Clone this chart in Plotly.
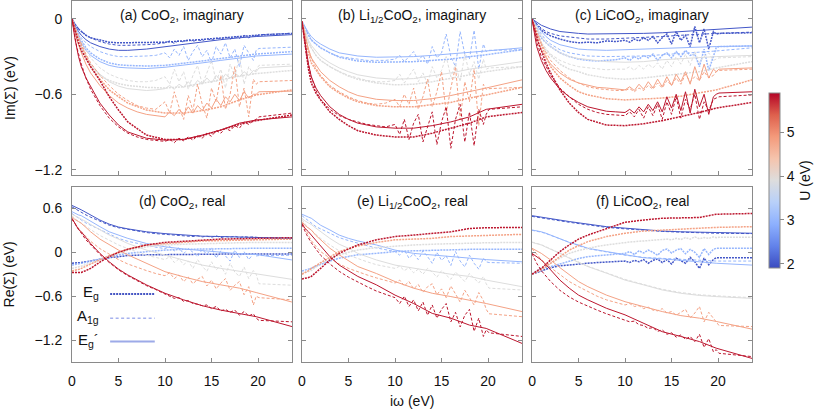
import plotly.graph_objects as go
from plotly.colors import sample_colorscale

# ---------------- grids (i omega, eV) ----------------
XS = [0, 0.3, 0.7, 1, 1.5, 2, 3, 4, 5, 6, 8, 10, 12, 14, 16, 18, 19.8, 23.65]
XN = [0, 0.5, 1, 1.5, 2, 3, 4, 5, 6, 7, 8, 9,
      10, 10.5, 11, 11.5, 12, 12.5, 13, 13.5, 14, 14.5, 15, 15.5, 16, 16.5, 17, 17.5, 18, 18.5, 19, 19.5,
      19.8, 20.1, 23.65]

U_VALUES = [2.0, 3.0, 3.9, 4.8, 5.8]
U_MIN, U_MAX = 1.9, 5.9
U_TICKS = [2, 3, 4, 5]
X_TICKS = [0, 5, 10, 15, 20]
IM_TICKS = [0, -0.6, -1.2]
IM_TICKTEXT = ["0", "\u22120.6", "\u22121.2"]
RE_TICKS = [0.6, 0, -0.6, -1.2]
RE_TICKTEXT = ["0.6", "0", "\u22120.6", "\u22121.2"]

TITLES = ["(a) CoO<sub>2</sub>, imaginary", "(b) Li<sub>1/2</sub>CoO<sub>2</sub>, imaginary",
          "(c) LiCoO<sub>2</sub>, imaginary", "(d) CoO<sub>2</sub>, real",
          "(e) Li<sub>1/2</sub>CoO<sub>2</sub>, real", "(f) LiCoO<sub>2</sub>, real"]
LEGEND_NAMES = ["E<sub>g</sub>", "A<sub>1g</sub>", "E<sub>g</sub>\u00b4"]

# ---------------- (a) CoO2 imaginary ----------------
a_u1_eg = [0, -0.04, -0.08, -0.10, -0.13, -0.15, -0.17, -0.185, -0.19, -0.19, -0.19, -0.185, -0.175, -0.165, -0.15, -0.14, -0.13, -0.115]
a_u1_ep = [0, -0.05, -0.10, -0.13, -0.165, -0.19, -0.22, -0.24, -0.25, -0.25, -0.24, -0.22, -0.20, -0.18, -0.165, -0.15, -0.14, -0.125]
a_u1_a1 = [0, -0.06, -0.10, -0.13, -0.15, -0.18, -0.20, -0.21, -0.21, -0.21, -0.205, -0.20,
           -0.19, -0.175, -0.195, -0.17, -0.185, -0.16, -0.18, -0.165, -0.175, -0.155, -0.17, -0.15, -0.165, -0.145, -0.16, -0.14, -0.155, -0.13, -0.15, -0.135,
           -0.14, -0.125, -0.115]
a_u2_eg = [0, -0.06, -0.13, -0.17, -0.23, -0.27, -0.32, -0.35, -0.365, -0.37, -0.375, -0.37, -0.355, -0.335, -0.315, -0.295, -0.28, -0.26]
a_u2_ep = [0, -0.07, -0.15, -0.19, -0.25, -0.29, -0.34, -0.37, -0.385, -0.39, -0.395, -0.385, -0.37, -0.35, -0.33, -0.31, -0.295, -0.28]
a_u2_a1 = [0, -0.10, -0.15, -0.19, -0.22, -0.26, -0.285, -0.30, -0.30, -0.30, -0.295, -0.29,
           -0.27, -0.31, -0.24, -0.29, -0.22, -0.33, -0.26, -0.21, -0.30, -0.25, -0.35, -0.22, -0.28, -0.19, -0.31, -0.24, -0.38, -0.21, -0.27, -0.33,
           -0.25, -0.235, -0.225]
a_u3_eg = [0, -0.07, -0.16, -0.22, -0.31, -0.37, -0.45, -0.49, -0.515, -0.53, -0.545, -0.55, -0.54, -0.515, -0.485, -0.455, -0.435, -0.41]
a_u3_ep = [0, -0.13, -0.22, -0.30, -0.36, -0.44, -0.50, -0.535, -0.555, -0.565, -0.57, -0.565,
           -0.555, -0.53, -0.56, -0.52, -0.545, -0.50, -0.54, -0.49, -0.52, -0.47, -0.51, -0.45, -0.49, -0.44, -0.47, -0.43, -0.46, -0.42, -0.45, -0.41,
           -0.42, -0.39, -0.375]
a_u3_a1 = [0, -0.10, -0.18, -0.25, -0.31, -0.39, -0.44, -0.47, -0.49, -0.50, -0.50, -0.49,
           -0.46, -0.52, -0.40, -0.50, -0.42, -0.56, -0.45, -0.37, -0.52, -0.43, -0.33, -0.50, -0.40, -0.55, -0.36, -0.46, -0.30, -0.52, -0.38, -0.44,
           -0.40, -0.37, -0.36]
a_u4_eg = [0, -0.07, -0.16, -0.21, -0.30, -0.38, -0.48, -0.565, -0.62, -0.67, -0.725, -0.75, -0.75, -0.73, -0.70, -0.645, -0.605, -0.565]
a_u4_ep = [0, -0.16, -0.27, -0.36, -0.43, -0.53, -0.61, -0.67, -0.71, -0.74, -0.76, -0.77,
           -0.78, -0.74, -0.77, -0.72, -0.76, -0.70, -0.75, -0.69, -0.73, -0.67, -0.71, -0.64, -0.69, -0.62, -0.66, -0.60, -0.65, -0.58, -0.63, -0.60,
           -0.60, -0.58, -0.575]
a_u4_a1 = [0, -0.10, -0.20, -0.28, -0.35, -0.45, -0.53, -0.60, -0.65, -0.69, -0.71, -0.72,
           -0.66, -0.75, -0.58, -0.70, -0.80, -0.61, -0.73, -0.52, -0.68, -0.79, -0.55, -0.66, -0.45, -0.72, -0.60, -0.38, -0.70, -0.55, -0.78, -0.48,
           -0.52, -0.50, -0.49]
a_u5_eg = [0, -0.09, -0.19, -0.25, -0.32, -0.38, -0.49, -0.62, -0.725, -0.82, -0.925, -0.96, -0.96, -0.93, -0.885, -0.84, -0.81, -0.765]
a_u5_ep = [0, -0.15, -0.30, -0.38, -0.47, -0.54, -0.67, -0.765, -0.845, -0.90, -0.95, -0.965, -0.96, -0.925, -0.885, -0.83, -0.805, -0.78]
a_u5_a1 = [0, -0.22, -0.36, -0.47, -0.56, -0.69, -0.79, -0.86, -0.91, -0.94, -0.96, -0.97,
           -0.975, -0.96, -0.985, -0.95, -0.97, -0.94, -0.965, -0.93, -0.95, -0.91, -0.935, -0.89, -0.91, -0.87, -0.89, -0.85, -0.87, -0.82, -0.84, -0.81,
           -0.80, -0.78, -0.75]

# ---------------- (b) Li1/2CoO2 imaginary ----------------
b_u2_eg = [-0.02, -0.07, -0.13, -0.17, -0.20, -0.23, -0.27, -0.305, -0.32, -0.335, -0.345, -0.345, -0.34, -0.33, -0.32, -0.30, -0.285, -0.245]
b_u2_ep = [-0.02, -0.06, -0.11, -0.14, -0.175, -0.20, -0.24, -0.27, -0.285, -0.295, -0.305, -0.305, -0.30, -0.29, -0.28, -0.265, -0.255, -0.23]
b_u2_a1 = [-0.02, -0.10, -0.16, -0.20, -0.23, -0.27, -0.30, -0.31, -0.32, -0.33, -0.33, -0.33,
           -0.32, -0.29, -0.34, -0.30, -0.26, -0.33, -0.29, -0.36, -0.22, -0.31, -0.27, -0.12, -0.30, -0.38, -0.10, -0.28, -0.32, -0.09, -0.40, -0.20,
           -0.26, -0.25, -0.245]
b_u3_eg = [-0.02, -0.10, -0.19, -0.23, -0.29, -0.33, -0.38, -0.42, -0.455, -0.48, -0.51, -0.525, -0.52, -0.50, -0.47, -0.445, -0.42, -0.38]
b_u3_ep = [-0.02, -0.09, -0.17, -0.21, -0.26, -0.30, -0.35, -0.39, -0.42, -0.445, -0.47, -0.48, -0.475, -0.455, -0.43, -0.40, -0.38, -0.34]
b_u3_a1 = [-0.02, -0.15, -0.23, -0.29, -0.33, -0.38, -0.42, -0.45, -0.47, -0.49, -0.50, -0.50,
           -0.49, -0.44, -0.51, -0.46, -0.40, -0.50, -0.43, -0.52, -0.38, -0.47, -0.41, -0.30, -0.46, -0.36, -0.50, -0.28, -0.44, -0.34, -0.48, -0.32,
           -0.40, -0.39, -0.38]
b_u4_eg = [-0.02, -0.14, -0.27, -0.35, -0.41, -0.46, -0.54, -0.59, -0.63, -0.66, -0.69, -0.70, -0.70, -0.685, -0.665, -0.63, -0.605, -0.545]
b_u4_ep = [-0.02, -0.12, -0.24, -0.31, -0.37, -0.42, -0.49, -0.54, -0.58, -0.61, -0.64, -0.65, -0.65, -0.635, -0.61, -0.58, -0.55, -0.485]
b_u4_a1 = [-0.02, -0.20, -0.31, -0.39, -0.45, -0.53, -0.58, -0.62, -0.65, -0.67, -0.68, -0.67,
           -0.64, -0.70, -0.60, -0.68, -0.55, -0.72, -0.62, -0.48, -0.70, -0.58, -0.42, -0.75, -0.55, -0.38, -0.80, -0.50, -0.66, -0.40, -0.85, -0.52,
           -0.56, -0.555, -0.545]
b_u5_eg = [-0.02, -0.20, -0.40, -0.51, -0.59, -0.645, -0.74, -0.80, -0.85, -0.89, -0.925, -0.94, -0.94, -0.91, -0.87, -0.83, -0.78, -0.745]
b_u5_ep = [-0.02, -0.18, -0.36, -0.46, -0.55, -0.61, -0.70, -0.76, -0.80, -0.83, -0.86, -0.87, -0.87, -0.85, -0.82, -0.78, -0.72, -0.68]
b_u5_a1 = [-0.02, -0.30, -0.46, -0.57, -0.64, -0.72, -0.77, -0.80, -0.82, -0.84, -0.85, -0.86,
           -0.84, -0.92, -0.80, -0.96, -0.83, -0.76, -0.98, -0.85, -0.74, -1.00, -0.82, -0.70, -1.03, -0.80, -0.68, -0.98, -0.74, -1.01, -0.72, -0.84,
           -0.76, -0.72, -0.70]

# ---------------- (c) LiCoO2 imaginary ----------------
c_u1_ep = [0, -0.015, -0.035, -0.05, -0.065, -0.08, -0.10, -0.11, -0.115, -0.12, -0.12, -0.12, -0.115, -0.11, -0.10, -0.09, -0.08, -0.065]
c_u1_a1 = [0, -0.025, -0.055, -0.075, -0.10, -0.115, -0.135, -0.145, -0.155, -0.16, -0.16, -0.155, -0.15, -0.14, -0.13, -0.12, -0.115, -0.105]
c_u1_eg = [0, -0.05, -0.09, -0.115, -0.135, -0.16, -0.18, -0.19, -0.185, -0.19, -0.175, -0.18,
           -0.17, -0.185, -0.16, -0.175, -0.15, -0.17, -0.14, -0.19, -0.15, -0.12, -0.20, -0.10, -0.17, -0.13, -0.22, -0.06, -0.19, -0.08, -0.24, -0.10,
           -0.12, -0.115, -0.11]
c_u2_ep = [0, -0.03, -0.07, -0.10, -0.14, -0.17, -0.205, -0.225, -0.24, -0.245, -0.25, -0.245, -0.24, -0.235, -0.23, -0.22, -0.22, -0.215]
c_u2_a1 = [0, -0.04, -0.09, -0.12, -0.17, -0.20, -0.245, -0.27, -0.285, -0.295, -0.30, -0.30, -0.295, -0.285, -0.275, -0.265, -0.255, -0.23]
c_u2_eg = [0, -0.09, -0.15, -0.19, -0.22, -0.27, -0.30, -0.32, -0.33, -0.335, -0.33, -0.325,
           -0.31, -0.33, -0.30, -0.32, -0.29, -0.31, -0.28, -0.33, -0.29, -0.27, -0.31, -0.26, -0.30, -0.25, -0.29, -0.28, -0.38, -0.24, -0.41, -0.30,
           -0.23, -0.22, -0.215]
c_u3_ep = [0, -0.04, -0.10, -0.14, -0.19, -0.22, -0.27, -0.30, -0.315, -0.325, -0.34, -0.345, -0.34, -0.325, -0.315, -0.305, -0.30, -0.29]
c_u3_eg = [0, -0.06, -0.14, -0.19, -0.25, -0.29, -0.36, -0.40, -0.42, -0.445, -0.47, -0.48, -0.47, -0.455, -0.44, -0.42, -0.39, -0.34]
c_u3_a1 = [0, -0.12, -0.19, -0.24, -0.28, -0.33, -0.36, -0.38, -0.39, -0.40, -0.405, -0.40,
           -0.40, -0.38, -0.41, -0.37, -0.40, -0.36, -0.39, -0.35, -0.40, -0.33, -0.38, -0.30, -0.36, -0.28, -0.37, -0.26, -0.35, -0.30, -0.27, -0.33,
           -0.32, -0.31, -0.30]
c_u4_eg = [0, -0.06, -0.15, -0.21, -0.30, -0.38, -0.47, -0.53, -0.58, -0.605, -0.635, -0.645, -0.64, -0.63, -0.615, -0.59, -0.565, -0.485]
c_u4_ep = [0, -0.15, -0.25, -0.31, -0.36, -0.43, -0.48, -0.51, -0.53, -0.545, -0.55, -0.56,
           -0.565, -0.54, -0.57, -0.52, -0.56, -0.50, -0.55, -0.48, -0.54, -0.46, -0.53, -0.44, -0.50, -0.42, -0.52, -0.38, -0.49, -0.36, -0.47, -0.40,
           -0.42, -0.40, -0.39]
c_u4_a1 = [0, -0.11, -0.20, -0.27, -0.33, -0.41, -0.47, -0.51, -0.54, -0.555, -0.565, -0.57,
           -0.57, -0.555, -0.58, -0.55, -0.57, -0.53, -0.56, -0.51, -0.55, -0.49, -0.53, -0.47, -0.52, -0.44, -0.50, -0.46, -0.49, -0.42, -0.47, -0.45,
           -0.42, -0.41, -0.40]
c_u5_eg = [0, -0.09, -0.19, -0.25, -0.35, -0.43, -0.565, -0.67, -0.745, -0.80, -0.845, -0.85, -0.835, -0.81, -0.78, -0.745, -0.71, -0.665]
c_u5_ep = [0, -0.22, -0.33, -0.41, -0.47, -0.56, -0.62, -0.665, -0.70, -0.72, -0.735, -0.74,
           -0.745, -0.72, -0.75, -0.70, -0.74, -0.68, -0.73, -0.66, -0.74, -0.62, -0.71, -0.60, -0.73, -0.58, -0.75, -0.56, -0.70, -0.60, -0.76, -0.62,
           -0.60, -0.59, -0.58]
c_u5_a1 = [0, -0.18, -0.30, -0.38, -0.45, -0.55, -0.62, -0.68, -0.72, -0.745, -0.76, -0.765,
           -0.77, -0.74, -0.78, -0.72, -0.79, -0.70, -0.77, -0.68, -0.80, -0.66, -0.76, -0.62, -0.79, -0.64, -0.72, -0.60, -0.80, -0.66, -0.73, -0.64,
           -0.63, -0.62, -0.605]

# ---------------- (d) CoO2 real ----------------
d_u1_eg = [-0.15, -0.15, -0.145, -0.14, -0.13, -0.12, -0.09, -0.075, -0.06, -0.045, -0.035, -0.03, -0.028, -0.025, -0.025, -0.025, -0.025, -0.025]
d_u1_ep = [0.64, 0.625, 0.60, 0.58, 0.545, 0.51, 0.44, 0.385, 0.345, 0.32, 0.28, 0.255, 0.235, 0.22, 0.215, 0.21, 0.205, 0.19]
d_u1_a1 = [0.62, 0.58, 0.55, 0.51, 0.48, 0.42, 0.37, 0.335, 0.31, 0.29, 0.27, 0.255,
           0.245, 0.24, 0.235, 0.23, 0.225, 0.23, 0.215, 0.225, 0.21, 0.22, 0.205, 0.225, 0.20, 0.215, 0.205, 0.22, 0.20, 0.215, 0.205, 0.21,
           0.205, 0.20, 0.195]
d_u2_eg = [-0.175, -0.17, -0.16, -0.15, -0.135, -0.12, -0.09, -0.06, -0.035, -0.015, 0.01, 0.03, 0.04, 0.045, 0.05, 0.055, 0.055, 0.055]
d_u2_ep = [0.555, 0.535, 0.51, 0.50, 0.46, 0.42, 0.35, 0.28, 0.235, 0.19, 0.12, 0.075, 0.045, 0.02, 0.0, -0.02, -0.03, -0.105]
d_u2_a1 = [0.53, 0.48, 0.44, 0.40, 0.37, 0.30, 0.24, 0.19, 0.15, 0.12, 0.09, 0.07,
           0.05, 0.08, 0.02, 0.06, -0.02, 0.05, 0.0, -0.06, 0.04, -0.03, 0.06, -0.08, 0.02, -0.05, -0.12, 0.03, -0.07, 0.01, -0.10, -0.02,
           -0.05, -0.045, -0.04]
d_u3_eg = [-0.22, -0.215, -0.20, -0.19, -0.17, -0.15, -0.10, -0.06, -0.015, 0.03, 0.075, 0.10, 0.11, 0.12, 0.125, 0.13, 0.135, 0.135]
d_u3_ep = [0.52, 0.50, 0.47, 0.46, 0.42, 0.38, 0.305, 0.235, 0.18, 0.12, 0.03, -0.035, -0.105, -0.175, -0.22, -0.26, -0.29, -0.37]
d_u3_a1 = [0.50, 0.44, 0.40, 0.35, 0.31, 0.23, 0.16, 0.10, 0.05, 0.0, -0.04, -0.07,
           -0.10, -0.06, -0.14, -0.09, -0.17, -0.12, -0.22, -0.10, -0.19, -0.26, -0.13, -0.24, -0.18, -0.30, -0.15, -0.27, -0.33, -0.20, -0.36, -0.25,
           -0.30, -0.43, -0.45]
d_u4_eg = [-0.255, -0.25, -0.235, -0.22, -0.19, -0.165, -0.10, -0.045, 0.0, 0.045, 0.10, 0.12, 0.14, 0.155, 0.16, 0.165, 0.17, 0.18]
d_u4_ep = [0.485, 0.45, 0.42, 0.395, 0.34, 0.28, 0.18, 0.10, 0.03, -0.035, -0.15, -0.265, -0.335, -0.40, -0.445, -0.49, -0.55, -0.68]
d_u4_a1 = [0.46, 0.36, 0.28, 0.21, 0.15, 0.05, -0.03, -0.10, -0.16, -0.21, -0.25, -0.29,
           -0.32, -0.28, -0.36, -0.31, -0.40, -0.34, -0.43, -0.37, -0.33, -0.46, -0.38, -0.50, -0.42, -0.36, -0.52, -0.45, -0.40, -0.58, -0.47, -0.72,
           -0.60, -0.62, -0.65]
d_u5_eg = [-0.275, -0.278, -0.28, -0.275, -0.25, -0.22, -0.135, -0.06, 0.0, 0.04, 0.10, 0.135, 0.15, 0.17, 0.18, 0.185, 0.19, 0.20]
d_u5_ep = [0.465, 0.40, 0.31, 0.28, 0.20, 0.12, -0.015, -0.13, -0.23, -0.31, -0.445, -0.56, -0.65, -0.73, -0.79, -0.835, -0.88, -1.015]
d_u5_a1 = [0.45, 0.35, 0.26, 0.17, 0.10, -0.03, -0.14, -0.24, -0.32, -0.39, -0.455, -0.51,
           -0.57, -0.59, -0.63, -0.62, -0.67, -0.66, -0.70, -0.71, -0.73, -0.72, -0.77, -0.74, -0.80, -0.78, -0.82, -0.79, -0.86, -0.81, -0.87, -0.84,
           -0.90, -0.93, -0.95]

# ---------------- (e) Li1/2CoO2 real ----------------
e_u2_eg = [-0.255, -0.245, -0.23, -0.22, -0.19, -0.165, -0.12, -0.08, -0.055, -0.035, -0.015, 0.01, 0.02, 0.03, 0.035, 0.04, 0.04, 0.04]
e_u2_ep = [0.52, 0.50, 0.48, 0.465, 0.42, 0.37, 0.305, 0.235, 0.19, 0.155, 0.10, 0.03, -0.015, -0.04, -0.06, -0.08, -0.10, -0.13]
e_u2_a1 = [0.50, 0.45, 0.40, 0.35, 0.32, 0.26, 0.20, 0.16, 0.12, 0.09, 0.06, 0.03,
           0.01, -0.04, 0.03, -0.08, -0.02, -0.10, 0.02, -0.06, -0.15, 0.0, -0.11, -0.05, -0.18, 0.01, -0.12, -0.20, -0.04, -0.15, -0.23, -0.08,
           -0.13, -0.14, -0.15]
e_u3_eg = [-0.29, -0.28, -0.26, -0.25, -0.20, -0.15, -0.09, -0.035, 0.0, 0.03, 0.065, 0.085, 0.10, 0.11, 0.12, 0.125, 0.13, 0.135]
e_u3_ep = [0.465, 0.43, 0.40, 0.38, 0.33, 0.28, 0.19, 0.11, 0.055, -0.015, -0.105, -0.175, -0.22, -0.265, -0.30, -0.33, -0.38, -0.47]
e_u3_a1 = [0.45, 0.36, 0.30, 0.24, 0.19, 0.10, 0.02, -0.04, -0.09, -0.13, -0.17, -0.20,
           -0.22, -0.19, -0.25, -0.21, -0.28, -0.23, -0.30, -0.22, -0.27, -0.34, -0.25, -0.31, -0.37, -0.27, -0.33, -0.40, -0.29, -0.36, -0.42, -0.33,
           -0.43, -0.49, -0.515]
e_u4_eg = [-0.30, -0.28, -0.25, -0.22, -0.18, -0.14, -0.06, 0.01, 0.05, 0.085, 0.135, 0.17, 0.18, 0.19, 0.215, 0.225, 0.235, 0.245]
e_u4_ep = [0.42, 0.37, 0.33, 0.305, 0.23, 0.17, 0.055, -0.035, -0.12, -0.195, -0.29, -0.40, -0.49, -0.56, -0.605, -0.65, -0.70, -0.81]
e_u4_a1 = [0.40, 0.27, 0.16, 0.08, 0.01, -0.08, -0.16, -0.22, -0.27, -0.31, -0.35, -0.39,
           -0.42, -0.38, -0.46, -0.40, -0.50, -0.44, -0.55, -0.47, -0.43, -0.58, -0.50, -0.62, -0.46, -0.57, -0.68, -0.52, -0.63, -0.72, -0.55, -0.66,
           -0.78, -0.84, -0.88]
e_u5_eg = [-0.365, -0.36, -0.345, -0.33, -0.28, -0.22, -0.105, -0.015, 0.045, 0.10, 0.17, 0.215, 0.235, 0.26, 0.28, 0.325, 0.335, 0.34]
e_u5_ep = [0.395, 0.33, 0.28, 0.235, 0.15, 0.075, -0.06, -0.175, -0.255, -0.33, -0.445, -0.585, -0.70, -0.835, -0.90, -0.995, -1.04, -1.245]
e_u5_a1 = [0.38, 0.24, 0.13, 0.04, -0.04, -0.16, -0.26, -0.34, -0.41, -0.47, -0.53, -0.58,
           -0.62, -0.70, -0.60, -0.74, -0.65, -0.80, -0.68, -0.86, -0.72, -0.90, -0.78, -0.70, -0.95, -0.82, -1.02, -0.86, -0.78, -1.08, -0.90, -1.15,
           -1.06, -1.10, -1.15]

# ---------------- (f) LiCoO2 real ----------------
f_u1_ep = [0.50, 0.495, 0.485, 0.48, 0.47, 0.465, 0.44, 0.42, 0.40, 0.38, 0.35, 0.33, 0.305, 0.29, 0.28, 0.27, 0.27, 0.26]
f_u1_a1 = [0.49, 0.485, 0.475, 0.47, 0.46, 0.45, 0.43, 0.41, 0.39, 0.37, 0.34, 0.32, 0.30, 0.285, 0.275, 0.265, 0.26, 0.255]
f_u1_eg = [-0.30, -0.275, -0.25, -0.225, -0.21, -0.185, -0.17, -0.16, -0.15, -0.14, -0.13, -0.125,
           -0.12, -0.14, -0.11, -0.13, -0.10, -0.15, -0.11, -0.09, -0.14, -0.10, -0.16, -0.08, -0.12, -0.15, -0.07, -0.13, -0.22, -0.08, -0.17, -0.10,
           -0.075, -0.075, -0.075]
f_u2_ep = [0.305, 0.30, 0.29, 0.28, 0.26, 0.235, 0.19, 0.135, 0.10, 0.055, 0.01, -0.035, -0.075, -0.09, -0.105, -0.13, -0.15, -0.175]
f_u2_a1 = [0.30, 0.295, 0.285, 0.275, 0.255, 0.23, 0.18, 0.13, 0.09, 0.05, 0.0, -0.04, -0.07, -0.085, -0.10, -0.11, -0.12, -0.12]
f_u2_eg = [-0.30, -0.255, -0.215, -0.205, -0.195, -0.16, -0.12, -0.085, -0.06, -0.045, -0.035, -0.025,
           -0.015, 0.01, -0.03, 0.02, -0.01, 0.03, 0.0, -0.04, 0.025, 0.045, -0.01, 0.03, 0.05, -0.02, 0.04, 0.0, -0.07, 0.05, -0.03, 0.04,
           0.055, 0.055, 0.055]
f_u3_ep = [0.135, 0.125, 0.11, 0.10, 0.07, 0.045, -0.015, -0.08, -0.135, -0.195, -0.285, -0.38, -0.445, -0.515, -0.56, -0.59, -0.605, -0.63]
f_u3_a1 = [0.14, 0.13, 0.115, 0.105, 0.075, 0.05, -0.01, -0.075, -0.13, -0.19, -0.28, -0.37, -0.44, -0.505, -0.55, -0.58, -0.595, -0.62]
f_u3_eg = [-0.30, -0.26, -0.225, -0.19, -0.15, -0.08, -0.015, 0.025, 0.055, 0.08, 0.10, 0.12,
           0.135, 0.14, 0.145, 0.15, 0.15, 0.16, 0.155, 0.17, 0.165, 0.18, 0.17, 0.19, 0.175, 0.20, 0.18, 0.21, 0.185, 0.20, 0.19, 0.21,
           0.20, 0.205, 0.205]
f_u4_eg = [-0.30, -0.285, -0.26, -0.24, -0.195, -0.15, -0.06, 0.03, 0.09, 0.145, 0.215, 0.26, 0.29, 0.305, 0.32, 0.335, 0.34, 0.35]
f_u4_ep = [0.055, 0.035, 0.005, -0.015, -0.06, -0.105, -0.21, -0.31, -0.40, -0.47, -0.585, -0.675, -0.745, -0.81, -0.865, -0.90, -0.945, -1.05]
f_u4_a1 = [0.05, -0.03, -0.10, -0.16, -0.21, -0.31, -0.40, -0.47, -0.54, -0.60, -0.65, -0.69,
           -0.72, -0.70, -0.74, -0.73, -0.77, -0.75, -0.79, -0.80, -0.77, -0.83, -0.81, -0.86, -0.82, -0.78, -0.90, -0.83, -0.74, -0.95, -0.82, -0.90,
           -0.96, -1.00, -1.015]
f_u5_eg = [-0.30, -0.27, -0.24, -0.22, -0.16, -0.105, 0.01, 0.10, 0.18, 0.235, 0.325, 0.41, 0.44, 0.465, 0.47, 0.475, 0.52, 0.53]
f_u5_ep = [-0.015, -0.04, -0.08, -0.105, -0.17, -0.24, -0.38, -0.49, -0.585, -0.65, -0.765, -0.855, -0.97, -1.085, -1.15, -1.22, -1.31, -1.45]
f_u5_a1 = [-0.02, -0.15, -0.25, -0.33, -0.40, -0.52, -0.61, -0.68, -0.74, -0.79, -0.84, -0.88,
           -0.92, -0.95, -0.94, -0.99, -1.00, -1.04, -1.03, -1.08, -1.06, -1.12, -1.10, -1.16, -1.13, -1.19, -1.15, -1.22, -1.12, -1.30, -1.18, -1.36,
           -1.33, -1.38, -1.425]

# (U index, Eg, A1g, Eg') per panel
PANELS = [
    [(0, a_u1_eg, a_u1_a1, a_u1_ep), (1, a_u2_eg, a_u2_a1, a_u2_ep), (2, a_u3_eg, a_u3_a1, a_u3_ep),
     (3, a_u4_eg, a_u4_a1, a_u4_ep), (4, a_u5_eg, a_u5_a1, a_u5_ep)],
    [(1, b_u2_eg, b_u2_a1, b_u2_ep), (2, b_u3_eg, b_u3_a1, b_u3_ep),
     (3, b_u4_eg, b_u4_a1, b_u4_ep), (4, b_u5_eg, b_u5_a1, b_u5_ep)],
    [(0, c_u1_eg, c_u1_a1, c_u1_ep), (1, c_u2_eg, c_u2_a1, c_u2_ep), (2, c_u3_eg, c_u3_a1, c_u3_ep),
     (3, c_u4_eg, c_u4_a1, c_u4_ep), (4, c_u5_eg, c_u5_a1, c_u5_ep)],
    [(0, d_u1_eg, d_u1_a1, d_u1_ep), (1, d_u2_eg, d_u2_a1, d_u2_ep), (2, d_u3_eg, d_u3_a1, d_u3_ep),
     (3, d_u4_eg, d_u4_a1, d_u4_ep), (4, d_u5_eg, d_u5_a1, d_u5_ep)],
    [(1, e_u2_eg, e_u2_a1, e_u2_ep), (2, e_u3_eg, e_u3_a1, e_u3_ep),
     (3, e_u4_eg, e_u4_a1, e_u4_ep), (4, e_u5_eg, e_u5_a1, e_u5_ep)],
    [(0, f_u1_eg, f_u1_a1, f_u1_ep), (1, f_u2_eg, f_u2_a1, f_u2_ep), (2, f_u3_eg, f_u3_a1, f_u3_ep),
     (3, f_u4_eg, f_u4_a1, f_u4_ep), (4, f_u5_eg, f_u5_a1, f_u5_ep)],
]

bad = [k for k, v in list(globals().items())
       if k[:2] in ("a_", "b_", "c_", "d_", "e_", "f_") and isinstance(v, list) and len(v) not in (len(XS), len(XN))]
if bad:
    raise SystemExit("bad lengths: " + ", ".join(f"{k}={len(globals()[k])}" for k in bad))

COOLWARM = [[0.0, "rgb(59,76,192)"], [0.125, "rgb(98,130,234)"], [0.25, "rgb(141,176,254)"],
            [0.375, "rgb(184,208,249)"], [0.5, "rgb(221,221,221)"], [0.625, "rgb(245,196,173)"],
            [0.75, "rgb(244,154,123)"], [0.875, "rgb(222,96,77)"], [1.0, "rgb(180,4,38)"]]

FONT = "Liberation Sans, Arial, Helvetica, sans-serif"
FRAME = "#8a8a8a"

fig = go.Figure()

# layout geometry (paper fractions)
XDOM = [[0.0, 0.3235], [0.3382, 0.6618], [0.6765, 1.0]]
YDOM = [[0.518, 1.0], [0.0, 0.4848]]
IM_RANGE = [-1.243, 0.143]
RE_RANGE = [-1.499, 0.892]

STYLE_EG = ("2px,1px", 1.5)
STYLE_A1 = ("3px,2px", 1.0)
STYLE_EP = ("solid", 1.0)

for pi, groups in enumerate(PANELS):
    sx = "" if pi == 0 else str(pi + 1)
    for ui, eg, a1, ep in groups:
        col = sample_colorscale(COOLWARM, [(U_VALUES[ui] - U_MIN) / (U_MAX - U_MIN)])[0]
        for vals, (dash, w) in zip((ep, a1, eg), (STYLE_EP, STYLE_A1, STYLE_EG)):
            xs = XS if len(vals) == len(XS) else XN
            fig.add_trace(go.Scatter(x=xs, y=vals, mode="lines", xaxis="x" + sx, yaxis="y" + sx,
                                     line=dict(color=col, width=w, dash=dash),
                                     showlegend=False, hoverinfo="skip"))

# colorbar
fig.add_trace(go.Scatter(x=[None], y=[None], mode="markers", xaxis="x", yaxis="y", showlegend=False,
                         hoverinfo="skip",
                         marker=dict(color=[U_MIN], colorscale=COOLWARM, cmin=U_MIN, cmax=U_MAX, showscale=True,
                                     colorbar=dict(x=1.025, xanchor="left", y=0.5028, yanchor="middle",
                                                   len=0.4848, lenmode="fraction", thickness=11,
                                                   thicknessmode="pixels", outlinecolor=FRAME, outlinewidth=1,
                                                   xpad=0, ypad=0,
                                                   tickvals=U_TICKS, ticks="outside", ticklen=4,
                                                   tickcolor=FRAME, tickfont=dict(size=14, color="#111"),
                                                   title=dict(text="U (eV)", side="right",
                                                              font=dict(size=14, color="#111"))))))

layout = dict(width=830, height=411, margin=dict(l=72, r=78, t=1, b=49),
              paper_bgcolor="white", plot_bgcolor="white",
              font=dict(family=FONT, size=14, color="#111"), showlegend=False)

for pi in range(6):
    sx = "" if pi == 0 else str(pi + 1)
    row, col = divmod(pi, 3)
    layout["xaxis" + sx] = dict(domain=XDOM[col], range=[0, 23.65], anchor="y" + sx,
                                tickvals=X_TICKS, ticks="inside", ticklen=4, tickcolor=FRAME,
                                showline=True, linecolor=FRAME, linewidth=1, mirror=True,
                                showgrid=False, zeroline=False, showticklabels=(row == 1),
                                ticklabelstandoff=6, tickfont=dict(size=14))
    layout["yaxis" + sx] = dict(domain=YDOM[row], range=IM_RANGE if row == 0 else RE_RANGE,
                                anchor="x" + sx,
                                tickvals=IM_TICKS if row == 0 else RE_TICKS,
                                ticktext=IM_TICKTEXT if row == 0 else RE_TICKTEXT,
                                ticks="inside", ticklen=4, tickcolor=FRAME,
                                showline=True, linecolor=FRAME, linewidth=1, mirror="ticks",
                                showgrid=False, zeroline=False, showticklabels=(col == 0),
                                ticklabelstandoff=6, tickfont=dict(size=14))

ann = []
for pi, t in enumerate(TITLES):
    sx = "" if pi == 0 else str(pi + 1)
    ann.append(dict(text=t, xref="x" + sx + " domain", yref="y" + sx + " domain", x=0.5, y=0.975,
                    xanchor="center", yanchor="top", showarrow=False, font=dict(size=14)))
ann.append(dict(text="Im(\u03a3) (eV)", xref="paper", yref="paper", x=-0.0912, y=0.759, textangle=-90,
                xanchor="center", yanchor="middle", showarrow=False, font=dict(size=14)))
ann.append(dict(text="Re(\u03a3) (eV)", xref="paper", yref="paper", x=-0.0912, y=0.2424, textangle=-90,
                xanchor="center", yanchor="middle", showarrow=False, font=dict(size=14)))
ann.append(dict(text="i\u03c9 (eV)", xref="paper", yref="paper", x=0.4993, y=-0.108,
                xanchor="center", yanchor="middle", showarrow=False, font=dict(size=14)))

# legend keys in panel (d)
LEG_Y = [-0.57, -0.90, -1.22]
LEG_STYLE = [dict(color="rgba(59,76,192,0.95)", width=2, dash="2px,1px"),
             dict(color="rgba(150,165,235,0.85)", width=1.5, dash="3px,2.5px"),
             dict(color="rgba(140,155,228,0.85)", width=2, dash="solid")]
shapes = []
for name, yv, st in zip(LEGEND_NAMES, LEG_Y, LEG_STYLE):
    ann.append(dict(text=name, xref="x4", yref="y4", x=3.15, y=yv + 0.02, xanchor="right",
                    yanchor="middle", showarrow=False, font=dict(size=15)))
    shapes.append(dict(type="line", xref="x4", yref="y4", x0=4.1, x1=8.9, y0=yv, y1=yv, line=st))

layout["annotations"] = ann
layout["shapes"] = shapes
fig.update_layout(**layout)

fig.write_html("out.html", config={"displayModeBar": False},
               post_script="document.body.style.margin='0';document.body.style.padding='0';")
